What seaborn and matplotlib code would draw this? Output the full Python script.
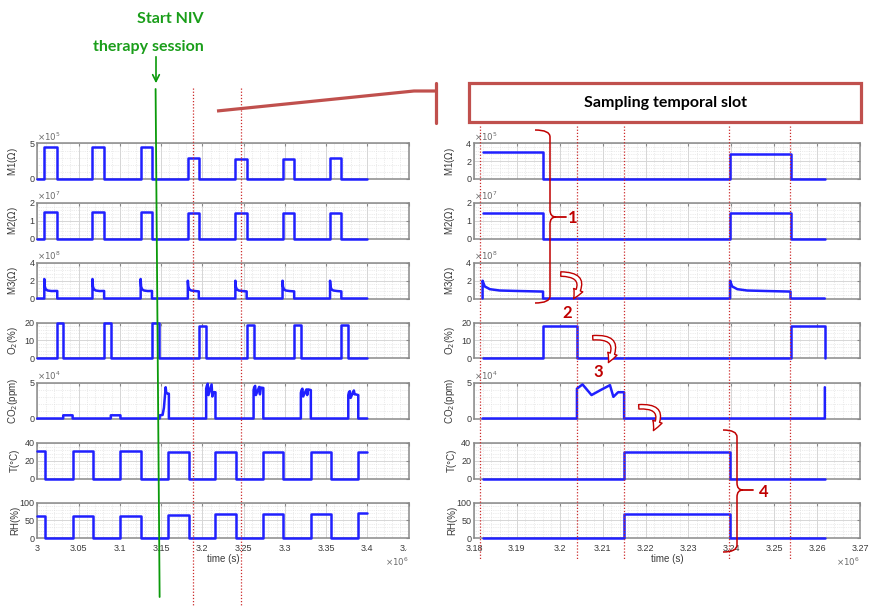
import matplotlib
matplotlib.use("Agg")
import pandas as pd
import matplotlib.pyplot as plt
import matplotlib.transforms as mtransforms
from matplotlib.lines import Line2D
from matplotlib.patches import Rectangle, FancyArrowPatch, PathPatch
from matplotlib.path import Path
from matplotlib.ticker import MultipleLocator
import seaborn as sns

# all times are in units of 1e6 s

# ---- left panel: whole recording ----
left_t0, left_t1 = 3.0, 3.4
left_m_on = [3.0085, 3.0669, 3.1253, 3.1825, 3.2401, 3.2973, 3.3549]
left_m_off = [3.0242, 3.0810, 3.1390, 3.1958, 3.2538, 3.3114, 3.3686]
left_m1 = [4.45, 4.5, 4.5, 3.0, 2.85, 2.85, 2.9]            # x1e5
left_m2 = [1.5, 1.52, 1.52, 1.42, 1.42, 1.42, 1.42]         # x1e7
left_m3_peak = [2.2, 2.2, 2.2, 2.0, 2.0, 2.0, 2.0]          # x1e8
left_m3_base = [0.85, 0.85, 0.85, 0.8, 0.8, 0.8, 0.8]

left_o2_on = [3.0242, 3.0810, 3.1390, 3.1958, 3.2538, 3.3114, 3.3686]
left_o2_off = [3.0314, 3.0891, 3.1471, 3.2047, 3.2622, 3.3195, 3.3770]
left_o2 = [19.5, 19.5, 19.5, 18.0, 18.5, 18.5, 18.5]

left_co2_t = [3.0, 3.0314, 3.0314, 3.0428, 3.0428, 3.0891, 3.0891, 3.1008, 3.1008,
              3.1483, 3.1483, 3.1519, 3.1535, 3.1556, 3.1564, 3.1588, 3.1595, 3.1595,
              3.2047, 3.2047, 3.2055, 3.2066, 3.2075, 3.2113, 3.2122, 3.2134, 3.2160, 3.2160,
              3.2622, 3.2622, 3.2630, 3.2641, 3.2650, 3.2690, 3.2699, 3.2711, 3.2740, 3.2740,
              3.3195, 3.3195, 3.3203, 3.3214, 3.3223, 3.3263, 3.3272, 3.3284, 3.3316, 3.3316,
              3.3770, 3.3770, 3.3778, 3.3789, 3.3798, 3.3838, 3.3847, 3.3859, 3.3891, 3.3891,
              3.4]
left_co2_v = [0, 0, 0.45, 0.45, 0, 0, 0.45, 0.45, 0,
              0, 0.45, 0.5, 1.5, 4.4, 3.6, 3.5, 3.5, 0,
              0, 4.2, 4.6, 4.9, 3.3, 4.8, 3.1, 3.7, 3.7, 0,
              0, 4.0, 4.4, 4.6, 3.3, 4.45, 3.4, 4.35, 4.3, 0,
              0, 3.6, 4.0, 4.2, 3.1, 4.1, 3.3, 4.1, 4.0, 0,
              0, 3.3, 3.7, 3.85, 2.9, 3.95, 3.4, 3.4, 3.3, 0,
              0]                                                  # x1e4

left_th_on = [3.0, 3.0428, 3.1008, 3.1583, 3.2160, 3.2740, 3.3316, 3.3891]
left_th_off = [3.0093, 3.0677, 3.1253, 3.1833, 3.2410, 3.2981, 3.3558, 3.4]
left_temp = [31, 31, 31, 30, 30, 30, 30, 30]
left_rh = [62, 62, 62, 65, 68, 69, 69, 70]

# ---- right panel: zoom on one sampling slot ----
right_t0, right_t1 = 3.1820, 3.2618
right_m_on = [3.1820, 3.2397]
right_m_off = [3.1961, 3.2538]
right_m1 = [3.0, 2.85]
right_m2 = [1.42, 1.42]
right_m3_peak = [2.0, 2.0]
right_m3_base = [0.78, 0.78]
right_o2_on = [3.1961, 3.2538]
right_o2_off = [3.2040, 3.2618]
right_o2 = [18, 18]
right_co2_t = [3.1820, 3.2040, 3.2040, 3.2053, 3.2074, 3.2095, 3.2117, 3.2125,
               3.2136, 3.2150, 3.2150, 3.2618, 3.2618]
right_co2_v = [0, 0, 4.2, 4.8, 3.3, 4.0, 4.7, 3.05, 3.7, 3.7, 0, 0, 4.4]
right_th_on = [3.2150]
right_th_off = [3.2397]
right_temp = [30]
right_rh = [68]

# M3 spike shape after each switch-on (offset, value x1e8)
m3_dt = [0.0005, 0.0017, 0.004, 0.0087]
m3_val = [1.36, 1.05, 0.9, 0.84]

# markers of the slot
left_slot_marks = [3.1882, 3.2474]
right_slot_marks = [3.1814, 3.2040, 3.2150, 3.2395, 3.2537]
niv_start = [3.1434, 3.1483]   # green line is slightly slanted

BLUE = "#2020ff"
GRID = "#d6d6d6"
RED_DOT = "#cc2a2a"
RED = "#c00000"
BOXRED = "#c0504d"
GREEN = "#1a9e1a"

W, H = 869, 606


def steps(on, off, lvl, t0, t1, hold_start=False, hold_end=False):
    t, v = [t0], [lvl[0] if hold_start else 0]
    for i, (a, b, l) in enumerate(zip(on, off, lvl)):
        if not (hold_start and i == 0):
            t += [a, a]
            v += [0, l]
        if hold_end and i == len(on) - 1:
            t += [b]
            v += [l]
        else:
            t += [b, b]
            v += [l, 0]
    if not hold_end:
        t.append(t1)
        v.append(0)
    return t, v


def m3_steps(on, off, peak, base, t0, t1):
    t, v = [t0], [0]
    for a, b, p, bs in zip(on, off, peak, base):
        t += [a, a] + [a + d for d in m3_dt] + [b, b]
        v += [0, p] + m3_val + [bs, 0]
    t.append(t1)
    v.append(0)
    return t, v


sns.set_style("white")
plt.rcParams["font.family"] = ["Liberation Sans", "DejaVu Sans"]
plt.rcParams["mathtext.fontset"] = "dejavusans"

fig = plt.figure(figsize=(W / 100, H / 100), dpi=100)

row_top = [143.5, 203, 263, 322.5, 383, 443, 502.5]
row_h = 35.5

ylabels = ["M1($\\Omega$)", "M2($\\Omega$)", "M3($\\Omega$)", "O$_2$(%)",
           "CO$_2$(ppm)", "T(°C)", "RH(%)"]
exps = ["5", "7", "8", None, "4", None, None]
left_yticks = [[0, 5], [0, 1, 2], [0, 2, 4], [0, 10, 20], [0, 5], [0, 20, 40], [0, 50, 100]]
right_yticks = [[0, 2, 4], [0, 1, 2], [0, 2, 4], [0, 10, 20], [0, 5], [0, 20, 40], [0, 50, 100]]

left_series = [
    steps(left_m_on, left_m_off, left_m1, left_t0, left_t1),
    steps(left_m_on, left_m_off, left_m2, left_t0, left_t1),
    m3_steps(left_m_on, left_m_off, left_m3_peak, left_m3_base, left_t0, left_t1),
    steps(left_o2_on, left_o2_off, left_o2, left_t0, left_t1),
    (left_co2_t, left_co2_v),
    steps(left_th_on, left_th_off, left_temp, left_t0, left_t1, True, True),
    steps(left_th_on, left_th_off, left_rh, left_t0, left_t1, True, True),
]
right_series = [
    steps(right_m_on, right_m_off, right_m1, right_t0, right_t1, hold_start=True),
    steps(right_m_on, right_m_off, right_m2, right_t0, right_t1, hold_start=True),
    m3_steps(right_m_on, right_m_off, right_m3_peak, right_m3_base, right_t0, right_t1),
    steps(right_o2_on, right_o2_off, right_o2, right_t0, right_t1),
    (right_co2_t, right_co2_v),
    steps(right_th_on, right_th_off, right_temp, right_t0, right_t1),
    steps(right_th_on, right_th_off, right_rh, right_t0, right_t1),
]


def make_panel(x0, x1, xlim, xmajor, xminor, series, yticks, label_x):
    axes = []
    for i, (t, v) in enumerate(series):
        ax = fig.add_axes([x0 / W, 1 - (row_top[i] + row_h) / H, (x1 - x0) / W, row_h / H])
        df = pd.DataFrame({"t": t, "v": v})
        sns.lineplot(data=df, x="t", y="v", ax=ax, estimator=None, sort=False,
                     color=BLUE, linewidth=1.8, legend=False, zorder=4, clip_on=False)
        ax.set_xlim(*xlim)
        ax.set_ylim(yticks[i][0], yticks[i][-1])
        ax.set_yticks(yticks[i])
        ax.yaxis.set_minor_locator(MultipleLocator((yticks[i][1] - yticks[i][0]) / 5))
        ax.xaxis.set_major_locator(MultipleLocator(xmajor))
        ax.xaxis.set_minor_locator(MultipleLocator(xminor))
        ax.grid(True, which="major", color=GRID, lw=0.7)
        ax.grid(True, which="minor", color="#dadada", lw=0.5, ls=":")
        for s in ax.spines.values():
            s.set_color("#8a8a8a")
            s.set_linewidth(1.1)
        ax.tick_params(which="both", direction="in", top=True, right=True,
                       colors="#8a8a8a", labelcolor="#3a3a3a", labelsize=6.5, pad=2)
        ax.tick_params(which="major", length=2.5)
        ax.tick_params(which="minor", length=0)
        ax.set_ylabel(ylabels[i], fontsize=7, color="#3a3a3a")
        ax.yaxis.set_label_coords(label_x, 0.5)
        if exps[i]:
            ax.text(0.0, 1.02, "$\\times10^{%s}$" % exps[i], transform=ax.transAxes,
                    fontsize=6.2, color="#6a6a6a", ha="left", va="bottom")
        if i < len(series) - 1:
            ax.tick_params(labelbottom=False)
            ax.set_xlabel("")
        else:
            ax.xaxis.set_major_formatter(lambda x, p: "%g" % round(x, 3))
            ax.set_xlabel("time (s)", fontsize=7, color="#3a3a3a")
            ax.xaxis.set_label_coords(0.5, -0.45)
            ax.tick_params(axis="x", pad=4)
            ax.text(1.0, -0.68, "$\\times10^{6}$", transform=ax.transAxes,
                    fontsize=6.2, color="#6a6a6a", ha="right", va="center")
        axes.append(ax)
    return axes


axL = make_panel(37.3, 408.5, (3.0, 3.45), 0.05, 0.01, left_series, left_yticks, -0.047)
axR = make_panel(474, 860, (3.18, 3.27), 0.01, 0.002, right_series, right_yticks, -0.044)

# the left picture is cut right after its last tick
fig.canvas.draw()
clip = mtransforms.Bbox.from_extents(0, 0, 407, H)
for lbl in axL[-1].get_xticklabels():
    lbl.set_clip_on(True)
    lbl.set_clip_box(clip)

# slot marks and start of therapy
transL = mtransforms.blended_transform_factory(axL[0].transData, fig.transFigure)
transR = mtransforms.blended_transform_factory(axR[0].transData, fig.transFigure)
for t in left_slot_marks:
    fig.add_artist(Line2D([t, t], [1 - 88 / H, 0], transform=transL, color=RED_DOT,
                          ls=(0, (1, 1.5)), lw=0.9, zorder=20))
for t in right_slot_marks:
    fig.add_artist(Line2D([t, t], [1 - 126 / H, 1 - 560 / H], transform=transR, color=RED_DOT,
                          ls=(0, (1, 1.5)), lw=0.9, zorder=20))
fig.add_artist(Line2D(niv_start, [1 - 89 / H, 1 - 597 / H], transform=transL,
                      color="#0a9a0a", lw=1.3, zorder=21))

# overlay in pixel coordinates for the annotations
ov = fig.add_axes([0, 0, 1, 1], zorder=30)
ov.set_xlim(0, W)
ov.set_ylim(H, 0)
ov.axis("off")
ov.patch.set_alpha(0)

ann_font = dict(family=["Lato", "DejaVu Sans"], fontweight="bold")
ov.text(204, 19, "Start NIV", color=GREEN, fontsize=11.5, ha="right", va="center", **ann_font)
ov.text(204, 47, "therapy session", color=GREEN, fontsize=11.5, ha="right", va="center", **ann_font)
ov.annotate("", xy=(156, 86), xytext=(156, 54),
            arrowprops=dict(arrowstyle="->", color="#0a9a0a", lw=1.2, mutation_scale=12))

ov.plot([217, 414, 436], [111, 91, 91], color=BOXRED, lw=2.3, solid_capstyle="butt")
ov.plot([436, 436], [83, 123], color=BOXRED, lw=2.3)
ov.add_patch(Rectangle((469, 83), 392, 39, fill=False, ec=BOXRED, lw=2.3))
ov.text(665, 103, "Sampling temporal slot", color="black", fontsize=11.5,
        ha="center", va="center", **ann_font)


def brace(x, spine, ytop, ymid, ybot, tip_end):
    r = 7
    verts = [(x, ytop), (spine, ytop), (spine, ytop + r), (spine, ymid - r),
             (spine, ymid), (spine + 6, ymid), (spine, ymid), (spine, ymid + r),
             (spine, ybot - r), (spine, ybot), (x, ybot)]
    codes = [Path.MOVETO, Path.CURVE3, Path.CURVE3, Path.LINETO,
             Path.CURVE3, Path.CURVE3, Path.CURVE3, Path.CURVE3,
             Path.LINETO, Path.CURVE3, Path.CURVE3]
    ov.add_patch(PathPatch(Path(verts, codes), fill=False, ec=RED, lw=1.1))
    ov.plot([spine + 6, tip_end], [ymid, ymid], color=RED, lw=1.3)


brace(535, 550, 130, 217, 303, 566)
brace(723, 737, 430, 490, 552, 753)

for txt, x, y in [("1", 573, 218), ("2", 567, 313), ("3", 598, 372), ("4", 764, 492)]:
    ov.text(x, y, txt, color=RED, fontsize=12, ha="center", va="center", **ann_font)

for a, b in [((558, 274), (572, 301)), ((590, 338), (607, 365)), ((636, 407), (652, 433))]:
    ov.add_patch(FancyArrowPatch(a, b, connectionstyle="arc3,rad=-1.0",
                                 arrowstyle="simple,head_length=7,head_width=7,tail_width=3.2",
                                 mutation_scale=1, fc="white", ec=RED, lw=1.0))

fig.savefig("out.png", dpi=100)
